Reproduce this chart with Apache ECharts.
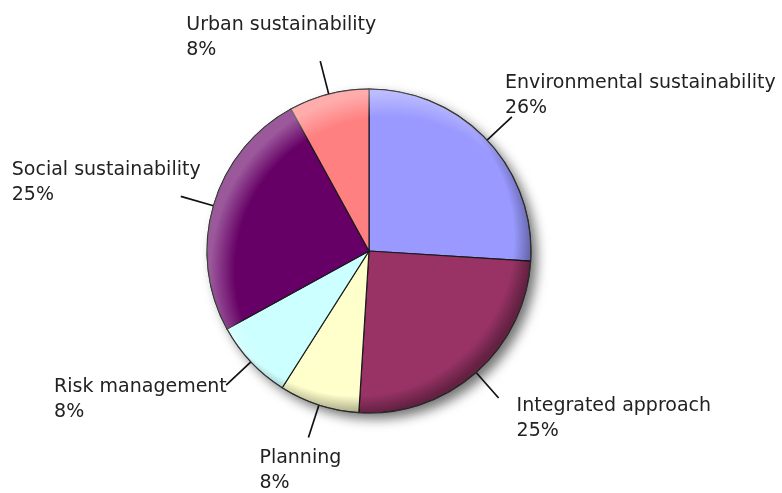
<!DOCTYPE html>
<html>
<head>
<meta charset="utf-8">
<script src="https://cdn.jsdelivr.net/npm/echarts@6/dist/echarts.min.js"></script>
<style>
  html, body { margin: 0; padding: 0; background: #ffffff; }
  #chart { width: 782px; height: 493px; }
</style>
</head>
<body>
<div id="chart"></div>
<script>
// Share of topics, clockwise from twelve o'clock
const categories = [
  'Environmental sustainability',
  'Integrated approach',
  'Planning',
  'Risk management',
  'Social sustainability',
  'Urban sustainability'
];
const shares = [26, 25, 8, 8, 25, 8];
const sliceColors = ['#9999ff', '#993366', '#ffffcc', '#ccffff', '#660066', '#ff8080'];

// Where each label block sits relative to the end of its leader line (px)
const labelOffsets = [
  [-7, -46],
  [18, -4],
  [-49, 8],
  [-172, -11],
  [-169, -39],
  [-134, -49]
];

const pieCenter = [369, 251];
const pieRadius = 162;

const chart = echarts.init(document.getElementById('chart'), null, { renderer: 'canvas' });

const sliceData = categories.map((name, i) => ({
  name: name,
  value: shares[i],
  itemStyle: { color: sliceColors[i] }
}));

const decoBase = {
  type: 'pie',
  center: pieCenter,
  radius: pieRadius,
  silent: true,
  startAngle: 90,
  label: { show: false },
  labelLine: { show: false },
  emphasis: { disabled: true },
  tooltip: { show: false },
  animation: false
};

chart.setOption({
  animation: false,
  series: [
    // drop shadow under the disc
    Object.assign({}, decoBase, {
      z: 1,
      data: [{ value: 1 }],
      itemStyle: {
        color: '#ffffff',
        shadowBlur: 12,
        shadowOffsetX: 6,
        shadowOffsetY: 6,
        shadowColor: 'rgba(0,0,0,0.55)'
      }
    }),
    {
      type: 'pie',
      z: 2,
      center: pieCenter,
      radius: pieRadius,
      startAngle: 90,
      clockwise: true,
      percentPrecision: 0,
      avoidLabelOverlap: false,
      animation: false,
      data: sliceData,
      itemStyle: {
        borderColor: '#1a1a1a',
        borderWidth: 1.2
      },
      label: {
        show: true,
        position: 'outside',
        formatter: '{b}\n{d}%',
        fontFamily: 'DejaVu Sans',
        fontSize: 19,
        lineHeight: 25,
        color: '#222222',
        align: 'left'
      },
      labelLine: {
        show: true,
        length: 34,
        length2: 0,
        smooth: false,
        lineStyle: { color: '#111111', width: 1.7 }
      },
      labelLayout: function (params) {
        const pts = params.labelLinePoints;
        if (!pts) return {};
        const end = pts[1];
        const off = labelOffsets[params.dataIndex];
        return {
          x: end[0] + off[0],
          y: end[1] + off[1],
          align: 'left',
          verticalAlign: 'top',
          labelLinePoints: [pts[0], pts[1], pts[1]]
        };
      },
      emphasis: { disabled: true }
    },
    // light bevel on the upper-left rim
    Object.assign({}, decoBase, {
      z: 3,
      data: [{ value: 1 }],
      itemStyle: {
        color: {
          type: 'radial', x: 0.56, y: 0.56, r: 0.55,
          colorStops: [
            { offset: 0, color: 'rgba(255,255,255,0)' },
            { offset: 0.86, color: 'rgba(255,255,255,0)' },
            { offset: 1, color: 'rgba(255,255,255,0.35)' }
          ]
        }
      }
    }),
    // darker rim on the lower-right
    Object.assign({}, decoBase, {
      z: 4,
      data: [{ value: 1 }],
      itemStyle: {
        color: {
          type: 'radial', x: 0.46, y: 0.46, r: 0.54,
          colorStops: [
            { offset: 0, color: 'rgba(0,0,0,0)' },
            { offset: 0.9, color: 'rgba(0,0,0,0)' },
            { offset: 1, color: 'rgba(0,0,0,0.35)' }
          ]
        },
        borderColor: 'rgba(60,60,60,0.6)',
        borderWidth: 1
      }
    })
  ]
});
</script>
</body>
</html>
